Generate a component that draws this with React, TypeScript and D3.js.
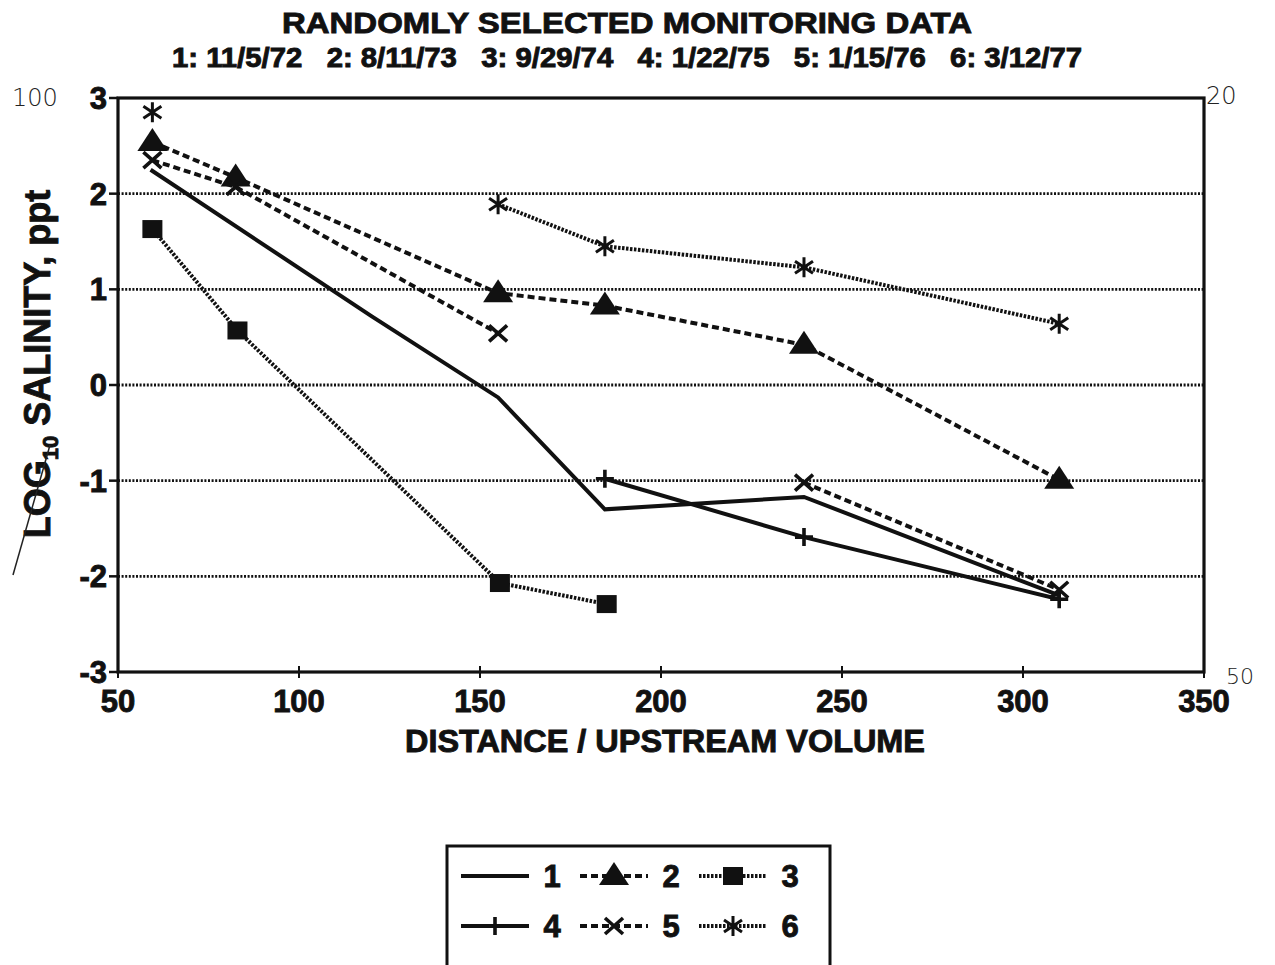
import React, { useRef, useEffect } from 'react';
import * as d3 from 'd3';

// series values (x = distance / upstream volume, y = log10 salinity)
const s1x = [59, 120, 155, 184.5, 239.5, 310];
const s1y = [2.25, 0.72, -0.13, -1.3, -1.17, -2.2];

const s2x = [59.5, 82.5, 155, 184.5, 239.5, 310];
const s2y = [2.54, 2.17, 0.96, 0.83, 0.42, -0.99];

const s3x = [59.5, 83, 155.5, 185];
const s3y = [1.63, 0.57, -2.07, -2.29];

const s4x = [184.5, 239.5, 310];
const s4y = [-0.98, -1.59, -2.24];

const s5x = [59.5, 82.5, 155, 184.5, 239.5, 310];
const s5y: (number | null)[] = [2.35, 2.07, 0.54, null, -1.02, -2.14];

const s6x = [59.5, 82.5, 155, 184.5, 239.5, 310];
const s6y: (number | null)[] = [2.85, null, 1.89, 1.45, 1.23, 0.64];

const seriesNames = ['1', '2', '3', '4', '5', '6'];
const xTicks = [50, 100, 150, 200, 250, 300, 350];
const yTicks = [-3, -2, -1, 0, 1, 2, 3];
const gridTicks = [-2, -1, 0, 1, 2];

const title = 'RANDOMLY SELECTED MONITORING DATA';
const subtitle = '1: 11/5/72   2: 8/11/73   3: 9/29/74   4: 1/22/75   5: 1/15/76   6: 3/12/77';
const xTitle = 'DISTANCE / UPSTREAM VOLUME';

type Marker = 'none' | 'triangle' | 'square' | 'plus' | 'cross' | 'asterisk';

const App: React.FC = () => {
  const svgRef = useRef<SVGSVGElement>(null);

  useEffect(() => {
    if (!svgRef.current) return;
    const svg = d3.select(svgRef.current);
    svg.selectAll('*').remove();

    const font = '"Liberation Sans", Arial, sans-serif';
    const ink = '#111';

    const x = d3.scaleLinear().domain([50, 350]).range([118, 1204]);
    const y = d3.scaleLinear().domain([-3, 3]).range([672, 98]);

    // heavy bold text, like the scanned original
    const bold = (sel: d3.Selection<SVGTextElement, any, any, any>, size: number) =>
      sel.attr('font-family', font).attr('font-weight', 'bold').attr('font-size', size)
        .attr('fill', ink).attr('stroke', ink).attr('stroke-width', 0.9);

    // titles
    bold(svg.append('text'), 30)
      .attr('x', 627).attr('y', 33)
      .attr('text-anchor', 'middle')
      .attr('textLength', 690).attr('lengthAdjust', 'spacingAndGlyphs')
      .text(title);

    bold(svg.append('text'), 27)
      .attr('x', 627).attr('y', 67)
      .attr('text-anchor', 'middle')
      .attr('textLength', 910).attr('lengthAdjust', 'spacingAndGlyphs')
      .attr('xml:space', 'preserve')
      .text(subtitle);

    // grid
    svg.append('g')
      .selectAll('line')
      .data(gridTicks)
      .enter()
      .append('line')
      .attr('x1', x(50)).attr('x2', x(350))
      .attr('y1', (d) => y(d)).attr('y2', (d) => y(d))
      .attr('stroke', ink)
      .attr('stroke-width', 2.8)
      .attr('stroke-dasharray', '2,1.6');

    // frame
    svg.append('rect')
      .attr('x', x(50)).attr('y', y(3))
      .attr('width', x(350) - x(50)).attr('height', y(-3) - y(3))
      .attr('fill', 'none').attr('stroke', ink).attr('stroke-width', 3.2);

    // y ticks + labels
    const yAxis = svg.append('g');
    yAxis.selectAll('line')
      .data(yTicks)
      .enter()
      .append('line')
      .attr('x1', x(50) - 9).attr('x2', x(50))
      .attr('y1', (d) => y(d)).attr('y2', (d) => y(d))
      .attr('stroke', ink).attr('stroke-width', 2.5);
    bold(yAxis.selectAll<SVGTextElement, number>('text')
      .data(yTicks)
      .enter()
      .append('text'), 31)
      .attr('x', 107).attr('y', (d: number) => y(d) + 11)
      .attr('text-anchor', 'end')
      .text((d: number) => String(d));

    // x ticks + labels
    const xAxis = svg.append('g');
    xAxis.selectAll('line')
      .data(xTicks)
      .enter()
      .append('line')
      .attr('x1', (d) => x(d)).attr('x2', (d) => x(d))
      .attr('y1', y(-3) - 6).attr('y2', y(-3) + 6)
      .attr('stroke', ink).attr('stroke-width', 2);
    bold(xAxis.selectAll<SVGTextElement, number>('text')
      .data(xTicks)
      .enter()
      .append('text'), 31)
      .attr('x', (d: number) => x(d)).attr('y', 712)
      .attr('text-anchor', 'middle')
      .text((d: number) => String(d));

    bold(svg.append('text'), 31)
      .attr('x', 665).attr('y', 752)
      .attr('text-anchor', 'middle')
      .attr('textLength', 520).attr('lengthAdjust', 'spacingAndGlyphs')
      .text(xTitle);

    // y title (rotated, with subscript)
    const yt = bold(svg.append('text'), 36)
      .attr('transform', 'translate(50,364) rotate(-90)')
      .attr('text-anchor', 'middle');
    yt.append('tspan').text('LOG');
    yt.append('tspan').attr('font-size', 22).attr('dy', 8).text('10');
    yt.append('tspan').attr('dy', -8).text(' SALINITY, ppt');

    // handwritten notes on the scan
    const hand = (tx: number, ty: number, s: string, size = 24) =>
      svg.append('text')
        .attr('x', tx).attr('y', ty)
        .attr('font-family', '"DejaVu Sans", sans-serif').attr('font-weight', 200)
        .attr('font-size', size).attr('fill', '#222')
        .text(s);
    hand(12, 106, '100');
    hand(1206, 104, '20');
    hand(1226, 684, '50', 22);
    svg.append('line')
      .attr('x1', 13).attr('y1', 575).attr('x2', 50).attr('y2', 445)
      .attr('stroke', '#222').attr('stroke-width', 1.5);

    // series
    const styles = [
      { xs: s1x, ys: s1y, dash: null, marker: 'none' as Marker },
      { xs: s2x, ys: s2y, dash: '7,4', marker: 'triangle' as Marker },
      { xs: s3x, ys: s3y, dash: '2.5,1.5', marker: 'square' as Marker },
      { xs: s4x, ys: s4y, dash: null, marker: 'plus' as Marker },
      { xs: s5x, ys: s5y, dash: '7,4', marker: 'cross' as Marker },
      { xs: s6x, ys: s6y, dash: '2.5,1.5', marker: 'asterisk' as Marker },
    ];

    const drawMarker = (g: d3.Selection<SVGGElement, unknown, null, undefined>, m: Marker, cx: number, cy: number) => {
      if (m === 'triangle') {
        g.append('path')
          .attr('d', `M${cx},${cy - 14} L${cx + 15},${cy + 9} L${cx - 15},${cy + 9} Z`)
          .attr('fill', ink);
      } else if (m === 'square') {
        g.append('rect')
          .attr('x', cx - 10).attr('y', cy - 9).attr('width', 20).attr('height', 18)
          .attr('fill', ink);
      } else if (m === 'plus') {
        g.append('path')
          .attr('d', `M${cx},${cy - 9} V${cy + 9} M${cx - 9},${cy} H${cx + 9}`)
          .attr('stroke', ink).attr('stroke-width', 3.6).attr('fill', 'none');
      } else if (m === 'cross') {
        g.append('path')
          .attr('d', `M${cx - 9},${cy - 8} L${cx + 9},${cy + 8} M${cx - 9},${cy + 8} L${cx + 9},${cy - 8}`)
          .attr('stroke', ink).attr('stroke-width', 3.6).attr('fill', 'none');
      } else if (m === 'asterisk') {
        g.append('path')
          .attr('d', `M${cx},${cy - 10} V${cy + 10} M${cx - 9},${cy - 6} L${cx + 9},${cy + 6} M${cx - 9},${cy + 6} L${cx + 9},${cy - 6}`)
          .attr('stroke', ink).attr('stroke-width', 3).attr('fill', 'none');
      }
    };

    styles.forEach((s) => {
      const pts = s.xs.map((xv, i) => [xv, s.ys[i]] as [number, number | null]);
      const line = d3.line<[number, number | null]>()
        .defined((d) => d[1] !== null)
        .x((d) => x(d[0]))
        .y((d) => y(d[1] as number));
      const g = svg.append('g');
      g.append('path')
        .datum(pts)
        .attr('d', line)
        .attr('fill', 'none')
        .attr('stroke', ink)
        .attr('stroke-width', 4)
        .attr('stroke-dasharray', s.dash ?? null);
      pts.filter((d) => d[1] !== null).forEach((d) => drawMarker(g, s.marker, x(d[0]), y(d[1] as number)));
    });

    // legend
    svg.append('rect')
      .attr('x', 447).attr('y', 846).attr('width', 383).attr('height', 140)
      .attr('fill', 'none').attr('stroke', ink).attr('stroke-width', 3);

    const legendCols = [461, 580, 699];
    const legendRows = [876, 926];
    styles.forEach((s, i) => {
      const lx = legendCols[i % 3];
      const ly = legendRows[Math.floor(i / 3)];
      const lg = svg.append('g');
      lg.append('line')
        .attr('x1', lx).attr('x2', lx + 68)
        .attr('y1', ly).attr('y2', ly)
        .attr('stroke', ink).attr('stroke-width', 4)
        .attr('stroke-dasharray', s.dash ?? null);
      drawMarker(lg, s.marker, lx + 34, ly);
      bold(lg.append('text'), 31)
        .attr('x', lx + 91).attr('y', ly + 11)
        .attr('text-anchor', 'middle')
        .text(seriesNames[i]);
    });
  }, []);

  return (
    <div style={{ position: 'absolute', left: 0, top: 0 }}>
      <svg ref={svgRef} width={1275} height={965} style={{ display: 'block', background: '#fff' }} />
    </div>
  );
};

export default App;
